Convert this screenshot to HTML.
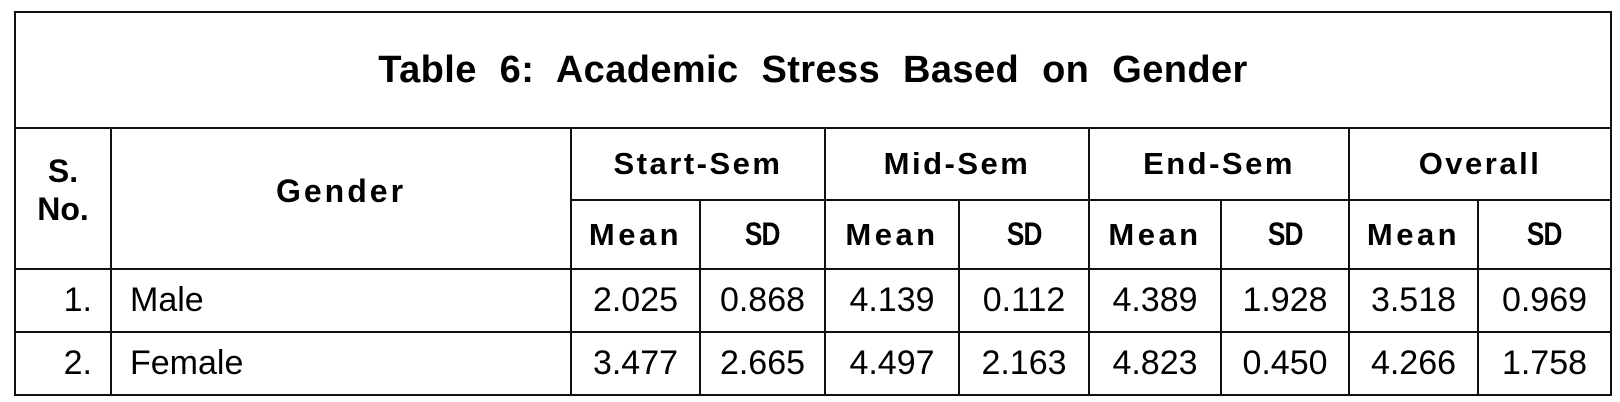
<!DOCTYPE html>
<html><head><style>
body{margin:0;background:#fff;width:1620px;height:402px;overflow:hidden;font-family:"Liberation Sans",Arial,sans-serif;color:#000}
table{position:absolute;left:14px;top:11px;border-collapse:collapse;table-layout:fixed;width:1596px}
td{border:2px solid #111;padding:0;text-align:center;font-size:34px;white-space:nowrap;overflow:hidden}
.t{height:114px;font-size:38px;font-weight:bold;word-spacing:12px;letter-spacing:0.4px}
.h{font-weight:bold;letter-spacing:2.5px;font-size:31px}
.m{font-weight:bold;letter-spacing:3.5px;font-size:31px}
.sd span{display:inline-block;font-weight:bold;font-size:32px;letter-spacing:-1px;transform:scaleX(0.82)}
.r td{height:61px}
.l{text-align:left;padding-left:18px}
.n{text-align:right;padding-right:18px}
</style></head><body>
<table>
<colgroup><col style="width:96px"><col style="width:460px"><col style="width:129px"><col style="width:125px"><col style="width:134px"><col style="width:130px"><col style="width:132px"><col style="width:128px"><col style="width:129px"><col style="width:133px"></colgroup>
<tr><td colspan="10" class="t">Table 6: Academic Stress Based on Gender</td></tr>
<tr style="height:72px"><td rowspan="2" style="font-weight:bold;font-size:32px;line-height:38px;padding-bottom:18px">S.<br>No.</td><td rowspan="2" class="h" style="font-size:32px;letter-spacing:3px;padding-bottom:14px">Gender</td>
<td colspan="2" class="h">Start-Sem</td><td colspan="2" class="h">Mid-Sem</td><td colspan="2" class="h">End-Sem</td><td colspan="2" class="h">Overall</td></tr>
<tr style="height:69px"><td class="m">Mean</td><td class="sd"><span>SD</span></td><td class="m">Mean</td><td class="sd"><span>SD</span></td><td class="m">Mean</td><td class="sd"><span>SD</span></td><td class="m">Mean</td><td class="sd"><span>SD</span></td></tr>
<tr class="r"><td class="n">1.</td><td class="l">Male</td><td>2.025</td><td>0.868</td><td>4.139</td><td>0.112</td><td>4.389</td><td>1.928</td><td>3.518</td><td>0.969</td></tr>
<tr class="r"><td class="n">2.</td><td class="l">Female</td><td>3.477</td><td>2.665</td><td>4.497</td><td>2.163</td><td>4.823</td><td>0.450</td><td>4.266</td><td>1.758</td></tr>
</table>
</body></html>
